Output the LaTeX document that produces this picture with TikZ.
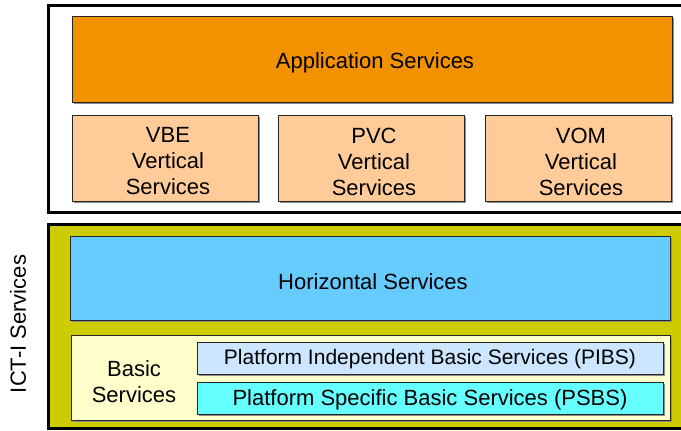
\documentclass[tikz,border=0pt]{standalone}
\usepackage{fontspec}
\setmainfont{Liberation Sans}
\usetikzlibrary{shadows}
\definecolor{apporange}{HTML}{F39200}
\definecolor{peach}{HTML}{FFCC99}
\definecolor{horizblue}{HTML}{66CCFF}
\definecolor{ictolive}{HTML}{CCCC00}
\definecolor{basicyellow}{HTML}{FFFFCC}
\definecolor{pibsblue}{HTML}{CCE6FF}
\definecolor{psbscyan}{HTML}{66FFFF}
\definecolor{shadowgray}{HTML}{8C8C8C}
\tikzset{
  outerbox/.style={draw=black, line width=3pt},
  svcbox/.style={draw=black!85, line width=0.8pt, inner sep=0pt,
    general shadow={fill=shadowgray, shadow xshift=1.6pt, shadow yshift=-1.6pt}},
  plaintext/.style={inner sep=0pt, align=center, font=\fontsize{22}{26}\selectfont},
  boxtext/.style={plaintext, yshift=-3.5pt, xshift=3pt},
  stripetext/.style={plaintext, yshift=-1.5pt}
}
\begin{document}
\begin{tikzpicture}[x=1pt,y=-1pt]
\useasboundingbox[fill=white] (0,0) rectangle (681,431);
% outer containers
\draw[outerbox, fill=white] (48,5) rectangle (700,212);
\draw[outerbox, fill=ictolive] (48,224) rectangle (700,428);
% application layer
\node[svcbox, fill=apporange, minimum width=600pt, minimum height=86pt,
  label={[boxtext]center:Application Services}] (app) at (372,59) {};
\node[svcbox, fill=peach, minimum width=186pt, minimum height=86pt,
  label={[boxtext]center:{VBE\\Vertical\\Services}}] (vbe) at (165,158) {};
\node[svcbox, fill=peach, minimum width=186pt, minimum height=86pt,
  label={[boxtext]center:{PVC\\Vertical\\Services}}] (pvc) at (371,158) {};
\node[svcbox, fill=peach, minimum width=186pt, minimum height=86pt,
  label={[boxtext]center:{VOM\\Vertical\\Services}}] (vom) at (578,158) {};
% ICT-I layer
\node[svcbox, fill=horizblue, minimum width=600pt, minimum height=84pt,
  label={[boxtext]center:Horizontal Services}] (horiz) at (370,278) {};
\node[svcbox, fill=basicyellow, minimum width=599pt, minimum height=85pt] (basic) at (370.5,377.5) {};
\node[plaintext] (basiclbl) at (134,382) {Basic\\Services};
\node[svcbox, fill=pibsblue, minimum width=466pt, minimum height=32pt,
  label={[stripetext, font=\fontsize{21}{25}\selectfont]center:Platform Independent Basic Services (PIBS)}] (pibs) at (430,358) {};
\node[svcbox, fill=psbscyan, minimum width=466pt, minimum height=32pt,
  label={[stripetext]center:Platform Specific Basic Services (PSBS)}] (psbs) at (430,398) {};
\node[plaintext, rotate=90] (ict) at (18,324) {ICT-I Services};
\end{tikzpicture}
\end{document}
